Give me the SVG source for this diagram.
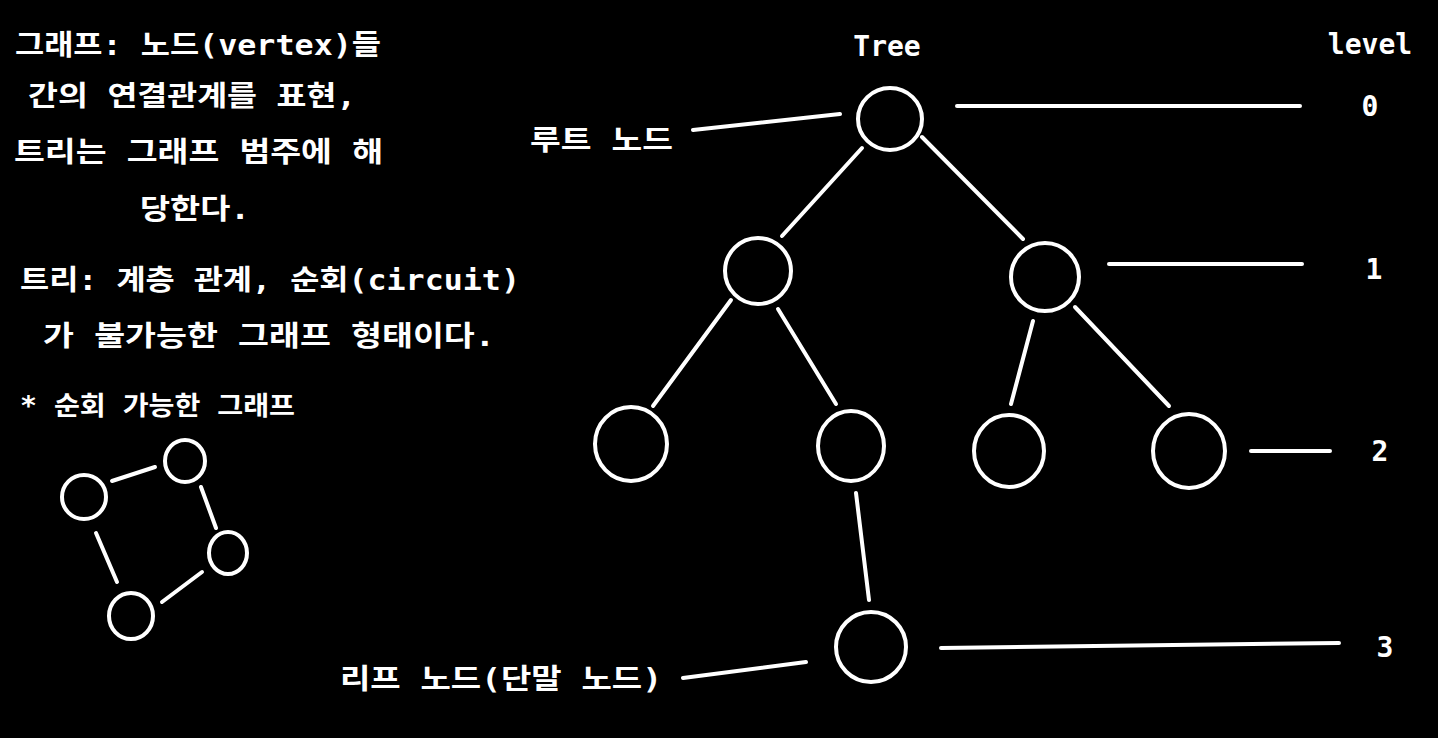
<svg xmlns="http://www.w3.org/2000/svg" width="1438" height="738" viewBox="0 0 1438 738">
<style>
text{font-family:"DejaVu Sans Mono","Noto Sans CJK KR",monospace;font-weight:bold;fill:#fff;font-size:28px}
.node{fill:none;stroke:#fff;stroke-width:4}
.edge{stroke:#fff;stroke-width:4;stroke-linecap:round;fill:none}
</style>
<rect width="1438" height="738" fill="#000"/>
<g id="notes">
<text x="15" y="55" textLength="366" lengthAdjust="spacingAndGlyphs">그래프: 노드(vertex)들</text>
<text x="28" y="106" textLength="328" lengthAdjust="spacingAndGlyphs">간의 연결관계를 표현,</text>
<text x="14" y="162" textLength="369" lengthAdjust="spacingAndGlyphs">트리는 그래프 범주에 해</text>
<text x="140" y="219" textLength="110" lengthAdjust="spacingAndGlyphs">당한다.</text>
<text x="20" y="290" textLength="500" lengthAdjust="spacingAndGlyphs">트리: 계층 관계, 순회(circuit)</text>
<text x="43" y="346" textLength="452" lengthAdjust="spacingAndGlyphs">가 불가능한 그래프 형태이다.</text>
<text x="20" y="415" textLength="275" lengthAdjust="spacingAndGlyphs" style="font-size:26px">* 순회 가능한 그래프</text>
</g>
<g id="cycle-graph">
<g class="edge">
<line x1="112" y1="481" x2="155" y2="467"/>
<line x1="201" y1="487" x2="216" y2="528"/>
<line x1="202" y1="572" x2="162" y2="602"/>
<line x1="96" y1="533" x2="117" y2="582"/>
</g>
<ellipse id="g-a" class="node" cx="84" cy="497" rx="22" ry="22"/>
<ellipse id="g-b" class="node" cx="185" cy="461" rx="20" ry="21"/>
<ellipse id="g-c" class="node" cx="228" cy="553" rx="19" ry="21"/>
<ellipse id="g-d" class="node" cx="131" cy="616" rx="22" ry="23"/>
</g>
<g id="connectors" class="edge">
<line x1="693" y1="130" x2="840" y2="114"/>
<line x1="957" y1="106" x2="1300" y2="106"/>
<line x1="862" y1="148" x2="782" y2="236"/>
<line x1="922" y1="137" x2="1023" y2="239"/>
<line x1="1109" y1="264" x2="1302" y2="264"/>
<line x1="731" y1="300" x2="653" y2="406"/>
<line x1="778" y1="309" x2="836" y2="404"/>
<line x1="1033" y1="321" x2="1011" y2="404"/>
<line x1="1075" y1="307" x2="1169" y2="406"/>
<line x1="1251" y1="451" x2="1330" y2="451"/>
<line x1="856" y1="493" x2="869" y2="600"/>
<line x1="683" y1="678" x2="806" y2="662"/>
<line x1="941" y1="648" x2="1339" y2="643"/>
</g>
<g id="root"><ellipse class="node" cx="890" cy="119" rx="32" ry="31"/></g>
<g id="n1a"><ellipse class="node" cx="758" cy="271" rx="33" ry="33"/></g>
<g id="n1b"><ellipse class="node" cx="1045" cy="277" rx="34" ry="34"/></g>
<g id="n2a"><ellipse class="node" cx="631" cy="444" rx="36" ry="37"/></g>
<g id="n2b"><ellipse class="node" cx="851" cy="446" rx="33" ry="35"/></g>
<g id="n2c"><ellipse class="node" cx="1009" cy="451" rx="35" ry="36"/></g>
<g id="n2d"><ellipse class="node" cx="1189" cy="451" rx="36" ry="37"/></g>
<g id="n3"><ellipse class="node" cx="871" cy="647" rx="35" ry="35"/></g>
<g id="labels">
<text x="887" y="56" text-anchor="middle">Tree</text>
<text x="1370" y="54" text-anchor="middle">level</text>
<text x="1370" y="116" text-anchor="middle">0</text>
<text x="1374" y="279" text-anchor="middle">1</text>
<text x="1380" y="461" text-anchor="middle">2</text>
<text x="1385" y="657" text-anchor="middle">3</text>
<text x="530" y="150" textLength="143" lengthAdjust="spacingAndGlyphs">루트 노드</text>
<text x="340" y="689" textLength="322" lengthAdjust="spacingAndGlyphs">리프 노드(단말 노드)</text>
</g>
</svg>
